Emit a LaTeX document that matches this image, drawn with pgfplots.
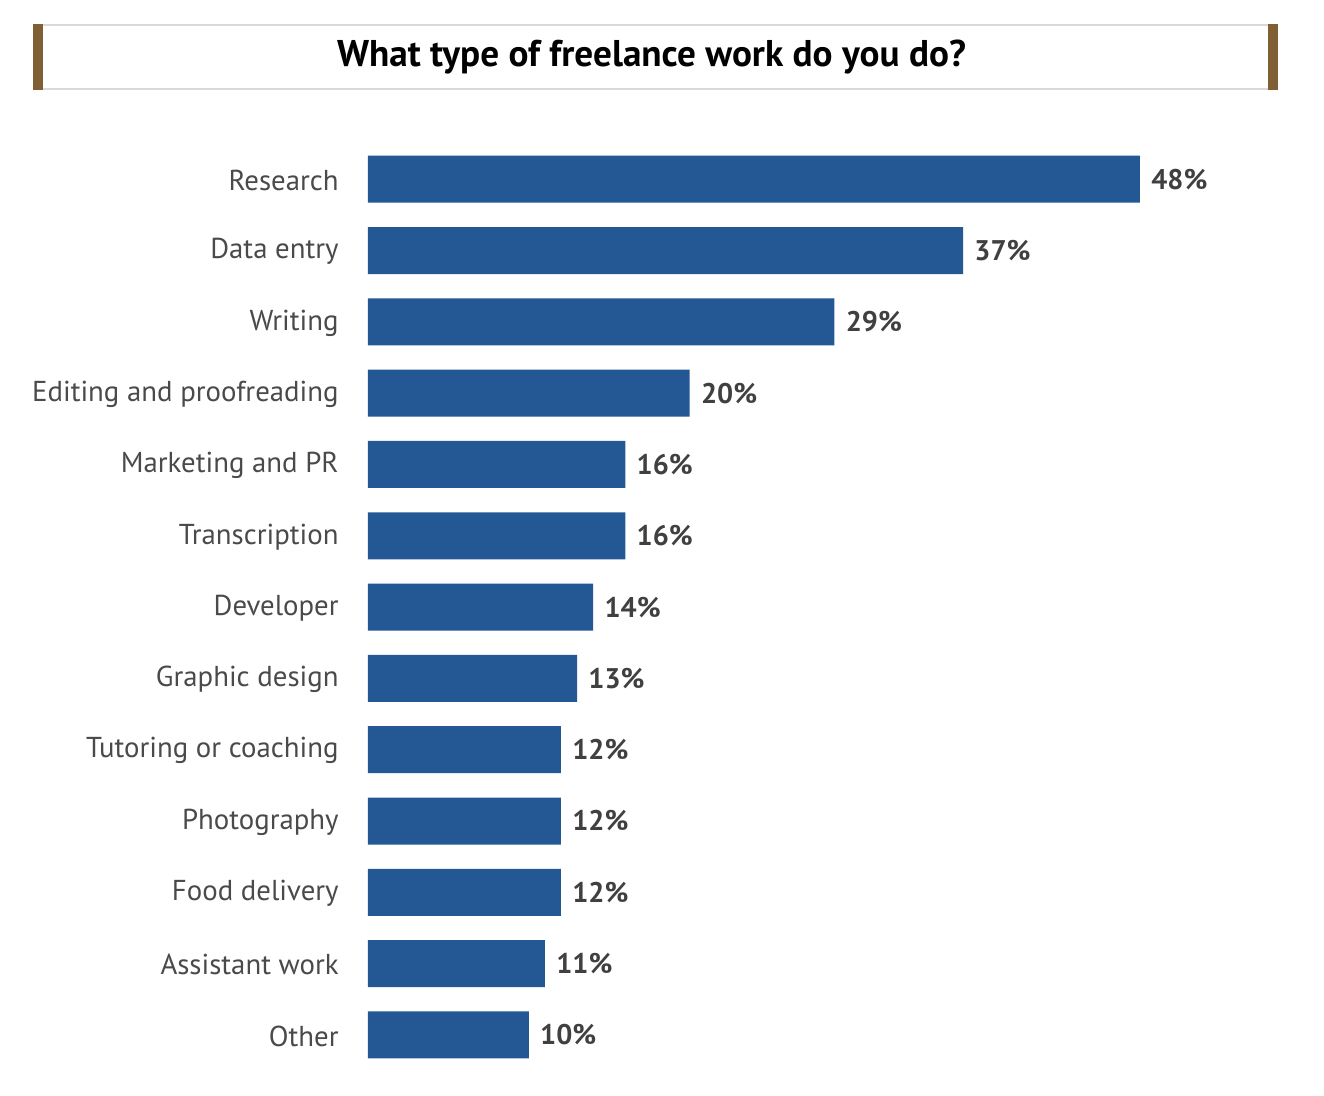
\documentclass[border=0pt]{standalone}
\usepackage{pgfplots}
\pgfplotsset{compat=1.18}
\usepackage{fontspec}
\setmainfont{PT Sans}
\definecolor{barblue}{HTML}{245894}
\definecolor{brown}{HTML}{7F5F33}
\definecolor{rule}{HTML}{D9D9D9}
\definecolor{labgray}{HTML}{4A4A4A}
\definecolor{valgray}{HTML}{404040}
\begin{document}
\begin{tikzpicture}
% page = 1324 x 1096 px at 0.5pt per px
\path[use as bounding box] (0,0) rectangle (662pt,548pt);
% title box
\draw[rule, line width=1pt] (16.5pt,535.5pt) -- (639pt,535.5pt);
\draw[rule, line width=1pt] (16.5pt,503.5pt) -- (639pt,503.5pt);
\fill[brown] (16.5pt,503pt) rectangle (21.5pt,536pt);
\fill[brown] (634pt,503pt) rectangle (639pt,536pt);
\node[font=\fontsize{18.6}{20}\selectfont\bfseries] at (325.75pt,519.5pt) {What type of freelance work do you do?};
\begin{axis}[
    at={(184pt,12.7pt)}, anchor=south west,
    scale only axis,
    width=386pt, height=463.5pt,
    xbar, bar width=23.5pt,
    xmin=0, xmax=48,
    ymin=-0.5, ymax=12.5, y dir=reverse,
    axis line style={draw=none},
    clip=false,
    xtick=\empty,
    ytick={0,...,12},
    yticklabels={Research,Data entry,Writing,Editing and proofreading,Marketing and PR,Transcription,Developer,Graphic design,Tutoring or coaching,Photography,Food delivery,Assistant work,Other},
    major tick length=0pt,
    yticklabel style={anchor=east, inner sep=0pt, text=labgray, font=\fontsize{14.4}{16}\selectfont, xshift=-14.5pt, yshift=-0.5pt},
    point meta=x,
    /pgf/number format/assume math mode=true,
    nodes near coords={\pgfmathprintnumber{\pgfplotspointmeta}\%},
    nodes near coords style={anchor=west, inner sep=0pt, xshift=5.5pt, text=valgray, font=\fontsize{14.2}{16}\selectfont\bfseries},
  ]
\addplot[fill=barblue, draw=none] coordinates {
  (48,0) (37,1) (29,2) (20,3) (16,4) (16,5) (14,6)
  (13,7) (12,8) (12,9) (12,10) (11,11) (10,12)};
\end{axis}
\end{tikzpicture}
\end{document}
